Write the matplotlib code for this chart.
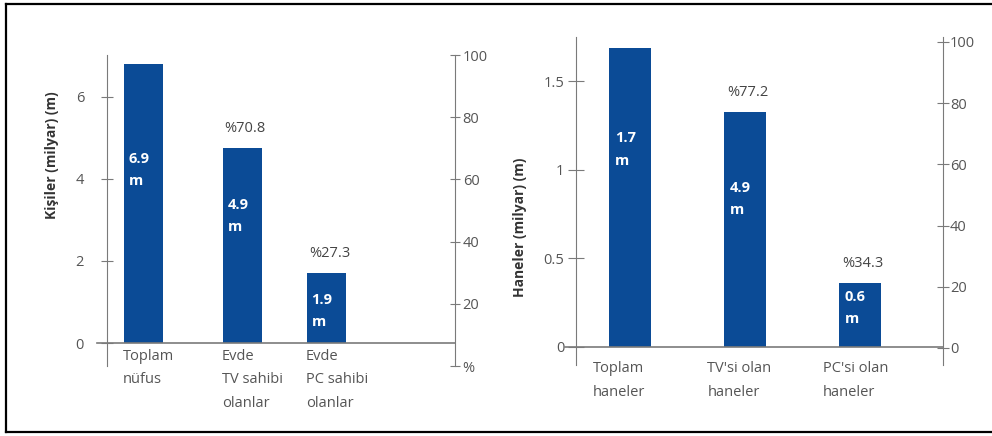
import matplotlib
matplotlib.use("Agg")
import matplotlib.pyplot as plt
from matplotlib.lines import Line2D

plt.rcParams['font.family'] = ['Open Sans', 'DejaVu Sans']

# left chart: people
people_cats = ["Toplam\nnüfus", "Evde\nTV sahibi\nolanlar", "Evde\nPC sahibi\nolanlar"]
people_vals = [6.8, 4.75, 1.7]  # bar heights as drawn (billions)
people_texts = ["6.9\nm", "4.9\nm", "1.9\nm"]
people_pcts = ["", "%70.8", "%27.3"]
people_pos = [0, 1, 1.85]

# right chart: households
house_cats = ["Toplam\nhaneler", "TV'si olan\nhaneler", "PC'si olan\nhaneler"]
house_vals = [1.69, 1.33, 0.36]
house_texts = ["1.7\nm", "4.9\nm", "0.6\nm"]
house_pcts = ["", "%77.2", "%34.3"]
house_pos = [0, 1, 2]

BLUE = "#0b4b96"
GREY = "#7a7a7a"
TXT = "#555555"

W, H = 992, 436
fig = plt.figure(figsize=(W / 100, H / 100), dpi=100)


def px_axes(x0, y0, x1, y1):
    return fig.add_axes([x0 / W, 1 - y1 / H, (x1 - x0) / W, (y1 - y0) / H])


def draw(ax, pos, vals, texts, pcts, cats, width, xlim, ylim, yticks, yticklabels,
         rlim, lpad, llen, rlen, rpad, inner_frac, inner_dx, cat_dx, cat_dy):
    ax.bar(pos, vals, width=width, color=BLUE, zorder=2)
    ax.set_xlim(*xlim)
    ax.set_ylim(*ylim)
    ax.set_xticks([])
    ax.set_yticks(yticks, yticklabels)
    for s in ["top", "bottom", "right"]:
        ax.spines[s].set_visible(False)
    ax.spines["left"].set_color(GREY)
    ax.tick_params(axis="y", direction="inout", length=llen, color=GREY,
                   labelcolor=TXT, labelsize=10.5, pad=lpad)
    ax.plot([-0.03, 1.0], [0, 0], transform=ax.get_yaxis_transform(),
            color=GREY, lw=1.2, clip_on=False, zorder=3)

    tw = ax.twinx()
    tw.set_ylim(*rlim)
    tw.set_yticks([0, 20, 40, 60, 80, 100], ["0" if rlim[0] < 0 else "%", "20", "40", "60", "80", "100"])
    for s in ["top", "bottom", "left"]:
        tw.spines[s].set_visible(False)
    tw.spines["right"].set_color(GREY)
    tw.tick_params(axis="y", direction="inout", length=rlen, color=GREY,
                   labelcolor=TXT, labelsize=10.5, pad=rpad)

    for i, (p, v) in enumerate(zip(pos, vals)):
        ax.annotate(texts[i], xy=(p - width / 2, v * inner_frac[i]),
                    xytext=(inner_dx, 0), textcoords="offset points",
                    ha="left", va="center", color="white", fontsize=10.5,
                    fontweight="bold", linespacing=1.75, zorder=4)
        if pcts[i]:
            ax.annotate(pcts[i], xy=(p, v), xytext=(2, 14), textcoords="offset points",
                        ha="center", va="center", color="#444444", fontsize=10.5)
        ax.annotate(cats[i], xy=(p - width / 2, 0), xytext=(cat_dx, cat_dy),
                    textcoords="offset points", ha="left", va="top",
                    color=TXT, fontsize=10.5, linespacing=1.8, annotation_clip=False)
    return tw


ax1 = px_axes(107, 55, 455, 366)
draw(ax1, people_pos, people_vals, people_texts, people_pcts, people_cats,
     width=0.39, xlim=(-0.369, 3.146), ylim=(-0.56, 7.02),
     yticks=[0, 2, 4, 6], yticklabels=["0", "2", "4", "6"], rlim=(0, 100),
     lpad=12, llen=9, rlen=7, rpad=2,
     inner_frac=[0.62, 0.65, 0.46], inner_dx=3, cat_dx=-1, cat_dy=-4)

ax2 = px_axes(576, 37, 943, 365)
draw(ax2, house_pos, house_vals, house_texts, house_pcts, house_cats,
     width=0.365, xlim=(-0.47, 2.72), ylim=(-0.102, 1.751),
     yticks=[0, 0.5, 1, 1.5], yticklabels=["0", "0.5", "1", "1.5"], rlim=(-5.56, 101.6),
     lpad=3, llen=11, rlen=8, rpad=1,
     inner_frac=[0.66, 0.63, 0.61], inner_dx=4, cat_dx=-12, cat_dy=-10)

fig.text(52 / W, 1 - 155 / H, "Kişiler (milyar) (m)", rotation=90, ha="center",
         va="center", fontsize=10, fontweight="bold", color="#333333")
fig.text(520 / W, 1 - 227 / H, "Haneler (milyar) (m)", rotation=90, ha="center",
         va="center", fontsize=10, fontweight="bold", color="#333333")

# page frame (left, top, bottom)
for xs, ys in [([6, 6], [4, 432]), ([6, 992], [4, 4]), ([6, 992], [432, 432])]:
    fig.add_artist(Line2D([x / W for x in xs], [1 - y / H for y in ys],
                          color="black", lw=1.6, transform=fig.transFigure))

fig.savefig("out.png", dpi=100, facecolor="white")
